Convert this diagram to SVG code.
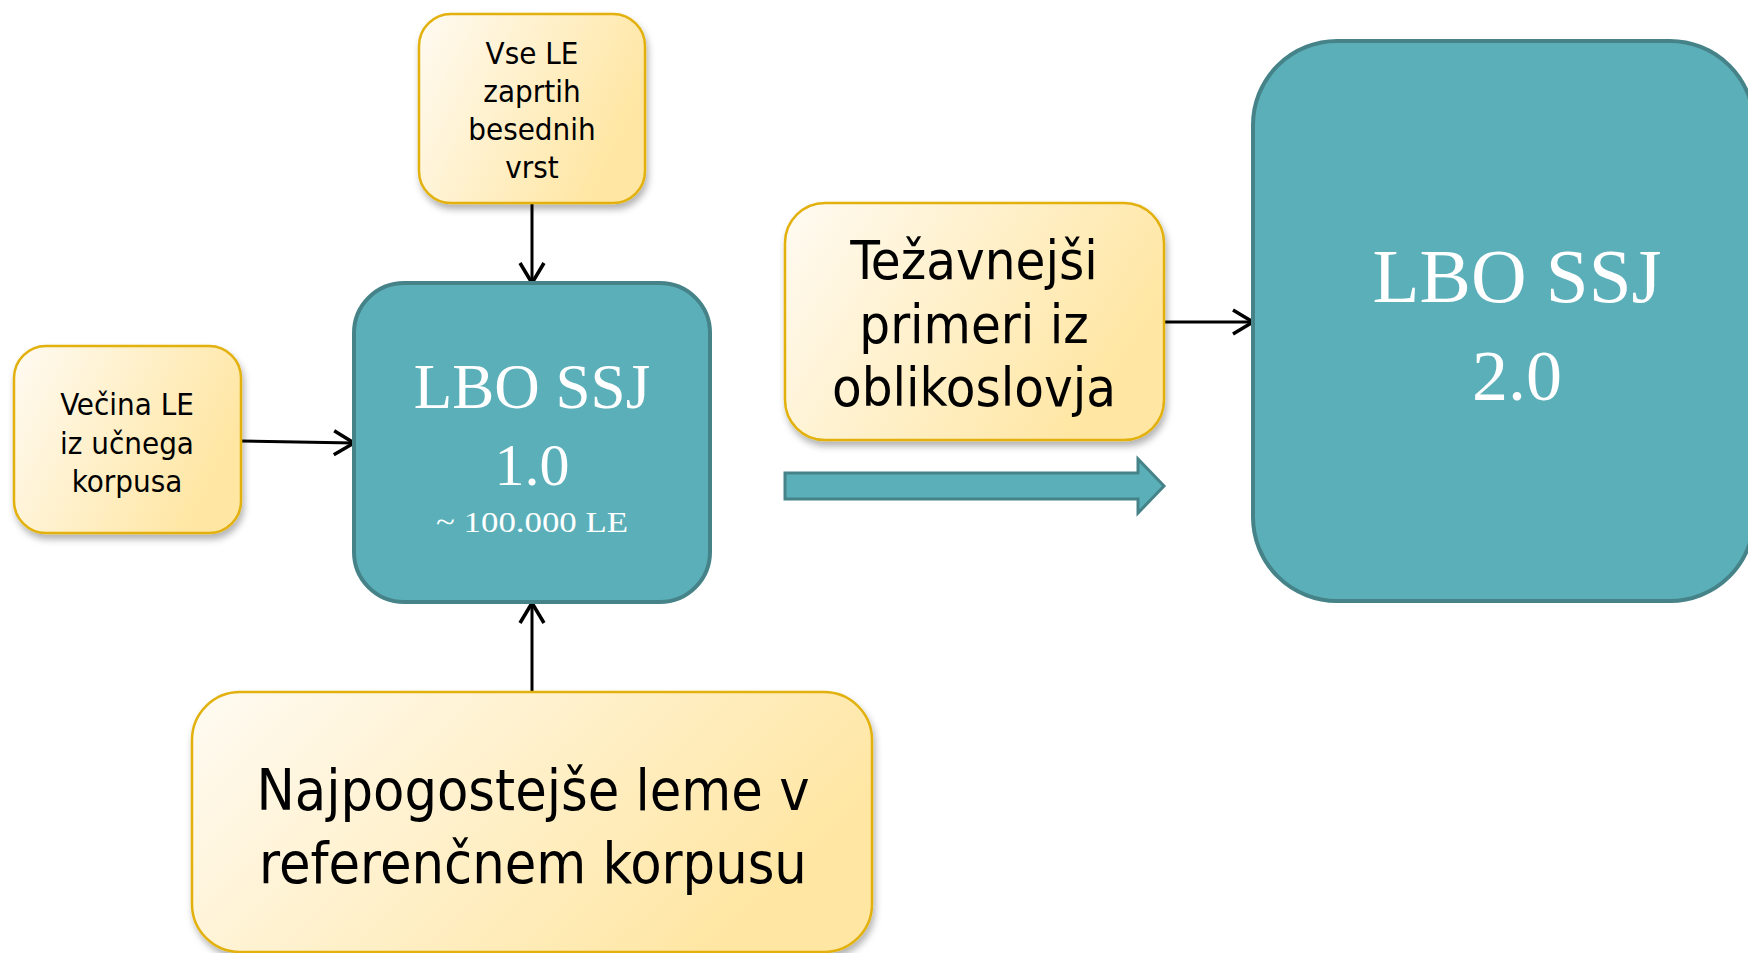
<svg xmlns="http://www.w3.org/2000/svg" width="1748" height="953" viewBox="0 0 1748 953">
<defs>
<linearGradient id="yel" x1="0" y1="0" x2="1" y2="0.4">
<stop offset="0" stop-color="#FFFBF3"/>
<stop offset="1" stop-color="#FFE6A3"/>
</linearGradient>
<filter id="sh" x="-10%" y="-10%" width="125%" height="130%">
<feDropShadow dx="2" dy="5" stdDeviation="3.5" flood-color="#000" flood-opacity="0.3"/>
</filter>
<marker id="arr" markerUnits="userSpaceOnUse" markerWidth="26" markerHeight="30" refX="22" refY="14" orient="auto">
<path d="M2,2 L22,14 L2,26" fill="none" stroke="#000" stroke-width="3.5" stroke-linejoin="miter"/>
</marker>
<style>
.y{fill:url(#yel);stroke:#E2B10E;stroke-width:2.5;filter:url(#sh)}
.t{fill:#5BAFB9;stroke:#458389;stroke-width:4}
.s{font-family:"DejaVu Sans Condensed","DejaVu Sans",sans-serif;fill:#000;text-anchor:middle}
.r{font-family:"Liberation Serif",serif;fill:#fff;text-anchor:middle}
.c{stroke:#000;stroke-width:3;fill:none;marker-end:url(#arr)}
</style>
</defs>
<rect width="1748" height="953" fill="#fff"/>
<g id="connectors">
<line class="c" x1="532" y1="204" x2="532" y2="283"/>
<line class="c" x1="241" y1="441" x2="354" y2="443"/>
<line class="c" x1="532" y1="692" x2="532" y2="603"/>
<line class="c" x1="1164" y1="322" x2="1253" y2="322"/>
<path id="big-arrow" class="t" style="stroke-width:3" d="M785,473 H1138 V459 L1164,486 L1138,513 V499 H785 Z"/>
</g>
<g id="n-vse">
<rect class="y" x="419" y="14" width="226" height="189" rx="32"/>
<text class="s" font-size="31"><tspan x="532" y="64">Vse LE</tspan><tspan x="532" y="102">zaprtih</tspan><tspan x="532" y="140">besednih</tspan><tspan x="532" y="178">vrst</tspan></text>
</g>
<g id="n-vecina">
<rect class="y" x="14" y="346" width="227" height="187" rx="32"/>
<text class="s" font-size="31"><tspan x="127" y="415">Večina LE</tspan><tspan x="127" y="454">iz učnega</tspan><tspan x="127" y="492">korpusa</tspan></text>
</g>
<g id="n-lbo1">
<rect class="t" x="354" y="283" width="356" height="319" rx="50"/>
<text class="r" font-size="63" x="532" y="408">LBO SSJ</text>
<text class="r" font-size="60" x="532" y="485">1.0</text>
<text class="r" font-size="29" x="532" y="532" textLength="192" lengthAdjust="spacingAndGlyphs">~ 100.000 LE</text>
</g>
<g id="n-tezavnejsi">
<rect class="y" x="785" y="203" width="379" height="237" rx="40"/>
<text class="s" font-size="54"><tspan x="974" y="279">Težavnejši</tspan><tspan x="974" y="343">primeri iz</tspan><tspan x="974" y="406">oblikoslovja</tspan></text>
</g>
<g id="n-lbo2">
<rect class="t" x="1253" y="41" width="501" height="560" rx="84"/>
<text class="r" font-size="77" x="1517" y="302">LBO SSJ</text>
<text class="r" font-size="72" x="1517" y="400">2.0</text>
</g>
<g id="n-najpogostejse">
<rect class="y" x="192" y="692" width="680" height="260" rx="48"/>
<text class="s" font-size="57"><tspan x="533" y="810">Najpogostejše leme v</tspan><tspan x="533" y="883">referenčnem korpusu</tspan></text>
</g>
</svg>
